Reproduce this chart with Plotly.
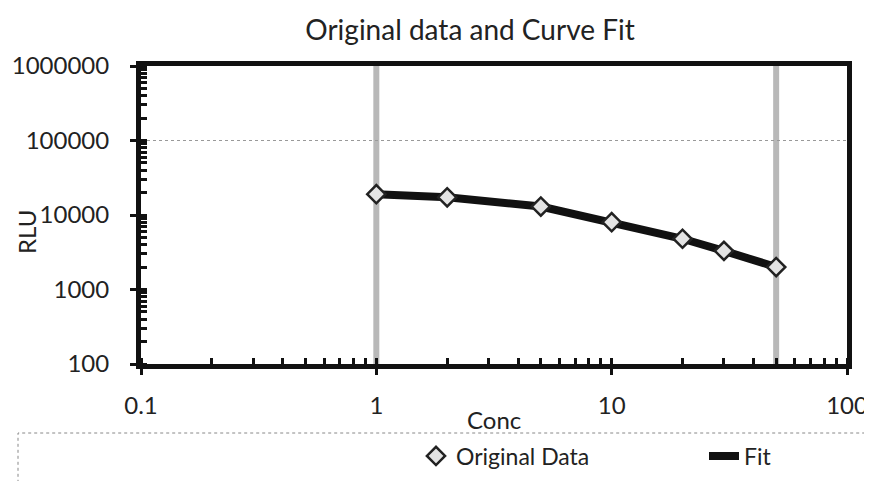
import plotly.graph_objects as go

conc = [1, 2, 5, 10, 20, 30, 50]
rlu = [19000, 17300, 13000, 8000, 4800, 3300, 2000]
fit_conc = [1, 2, 5, 10, 20, 30, 50]
fit_rlu = [19000, 17300, 13000, 8000, 4800, 3300, 2000]

FONT = "Lato"
W, H = 880, 473
L, R, T, B = 133, 41, 58, 117
PW, PH = W - L - R, H - T - B

def px(xr):  # reference pixel x -> paper
    return (xr - 8 - L) / PW

def py(yr):  # reference pixel y -> paper
    return (H - B - (yr - 8)) / PH

fig = go.Figure()

fig.add_trace(go.Scatter(x=fit_conc, y=fit_rlu, mode="lines", name="Fit",
                         line=dict(color="#111111", width=8), legend="legend2"))
fig.add_trace(go.Scatter(x=conc, y=rlu, mode="markers", name="Original Data",
                         marker=dict(symbol="diamond", size=14, color="#e4e4e4",
                                     line=dict(color="#222222", width=2.5)),
                         legend="legend"))

# vertical gray lines at first and last concentration
for xv in (conc[0], conc[-1]):
    fig.add_shape(type="line", xref="x", yref="paper", x0=xv, x1=xv, y0=0, y1=1,
                  line=dict(color="#b8b8b8", width=6), layer="below")
# dotted grid at 100000
fig.add_shape(type="line", xref="paper", yref="y", x0=0, x1=1, y0=100000, y1=100000,
              line=dict(color="#999999", width=1, dash="dot"), layer="below")
# legend box
fig.add_shape(type="rect", xref="paper", yref="paper", x0=px(18), x1=1.1, y0=-0.5, y1=py(433),
              line=dict(color="#888888", width=1, dash="dot"))

fig.add_annotation(text="RLU", xref="paper", yref="paper", x=px(26), y=py(232),
                   textangle=-90, showarrow=False, font=dict(size=24, family=FONT),
                   xanchor="center", yanchor="middle")
fig.add_annotation(text="Conc", xref="paper", yref="paper", x=px(494), y=py(419),
                   showarrow=False, font=dict(size=24, family=FONT),
                   xanchor="center", yanchor="middle")

fig.update_layout(
    width=W, height=H,
    margin=dict(l=L, r=R, t=T, b=B, autoexpand=False),
    plot_bgcolor="white", paper_bgcolor="white",
    font=dict(family=FONT, color="#222222", size=24),
    title=dict(text="Original data and Curve Fit", x=462 / W, xanchor="center",
               y=1 - 22 / H, yanchor="middle", font=dict(size=28, family=FONT)),
    legend=dict(orientation="h", x=px(416), xanchor="left", y=py(456),
                yanchor="middle", font=dict(size=23, family=FONT), bgcolor="rgba(0,0,0,0)"),
    legend2=dict(orientation="h", x=px(704), xanchor="left", y=py(456),
                 yanchor="middle", font=dict(size=23, family=FONT), bgcolor="rgba(0,0,0,0)"),
    showlegend=True,
)
fig.update_xaxes(type="log", range=[-1, 2], showgrid=False, zeroline=False, automargin=False,
                 showline=True, linecolor="#111111", linewidth=5, mirror=True,
                 ticks="outside", ticklen=6, tickwidth=3, tickcolor="#111111",
                 dtick=1, tickformat="~g", ticklabelstandoff=10,
                 minor=dict(ticks="inside", ticklen=6, tickwidth=3, tickcolor="#111111",
                            dtick="D1", showgrid=False),
                 tickfont=dict(size=24))
fig.update_yaxes(type="log", range=[2, 6], showgrid=False, zeroline=False, automargin=False,
                 showline=True, linecolor="#111111", linewidth=5, mirror=True,
                 ticks="outside", ticklen=6, tickwidth=3, tickcolor="#111111",
                 dtick=1, tickformat="d", ticklabelstandoff=16,
                 minor=dict(ticks="inside", ticklen=6, tickwidth=3, tickcolor="#111111",
                            dtick="D1", showgrid=False),
                 tickfont=dict(size=24))

fig.write_html("out.html")
